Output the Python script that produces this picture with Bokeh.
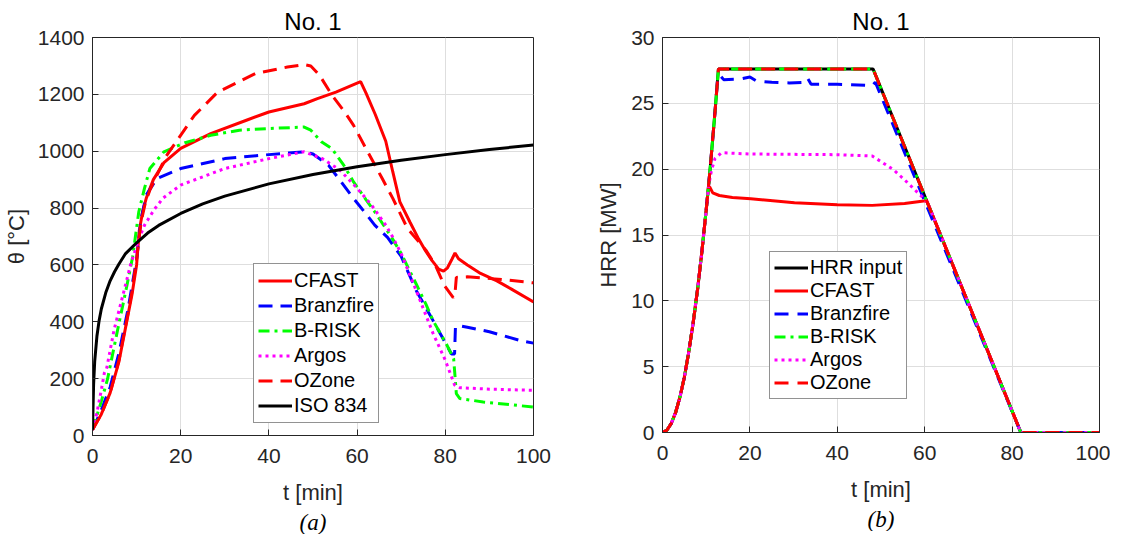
from bokeh.plotting import figure
from bokeh.layouts import row
from bokeh.models import Range1d, Title
from bokeh.embed import file_html
from bokeh.resources import INLINE

# ---------------- (a) gas temperature ----------------
t_cfast = [0, 2, 4, 6, 8, 9, 10, 10.6, 11.4, 12.2, 13.8, 16.2, 20, 26.8, 34.9, 40, 48, 51, 55.2, 60.8,
           62, 64.1, 66.5, 68.1, 69.7, 72, 74, 75.5, 77, 78.5, 79.6, 80.5, 81.5, 82.2, 83, 85, 88, 91.7, 95, 100]
T_cfast = [20, 75, 150, 260, 420, 500, 600, 720, 790, 835, 900, 960, 1010, 1062, 1109, 1138, 1167, 1185, 1208, 1245,
           1205, 1130, 1035, 927, 822, 750, 690, 650, 615, 585, 578, 590, 620, 642, 622, 600, 570, 544, 515, 470]

t_branz = [0, 2, 4, 6, 8, 10, 11, 12.2, 14.6, 20, 30, 40, 48, 50, 53.5, 56, 59.2, 62, 64, 66.9, 70, 73.4, 77.2,
           79.5, 81.4, 82.1, 82.3, 83, 85, 90, 97, 100]
T_branz = [20, 90, 170, 290, 440, 620, 760, 846, 904, 939, 974, 988, 998, 990, 951, 900, 834, 780, 740, 697, 630, 510, 405,
           340, 287, 287, 381, 387, 381, 365, 334, 325]

t_brisk = [0, 2, 3.4, 5.7, 7.6, 9.1, 10.5, 11.8, 13, 16.2, 21, 26.8, 33.3, 40, 48, 49.5, 51.9, 54.3, 57, 59.2, 62, 64,
           67.7, 70, 73.4, 75.6, 77.2, 80.2, 81.9, 82.5, 83.3, 88.6, 95, 100]
T_brisk = [20, 120, 198, 372, 512, 628, 787, 870, 939, 998, 1030, 1056, 1074, 1080, 1085, 1074, 1033, 1009, 950, 892, 830, 787,
           700, 640, 533, 462, 405, 323, 270, 147, 130, 118, 108, 100]

t_argos = [0, 1, 2, 2.7, 3.2, 4.9, 7, 8.7, 10.5, 11.8, 14, 16, 20, 30, 40, 48, 52, 56, 60, 63.3, 66.5, 68, 70,
           73.4, 77.2, 80, 82.1, 83.3, 90, 100]
T_argos = [20, 80, 160, 221, 235, 372, 500, 605, 690, 740, 795, 835, 881, 939, 974, 998, 975, 935, 870, 810, 740, 700, 640,
           510, 360, 265, 178, 168, 163, 159]

t_ozone = [0, 2, 4, 6, 8, 9, 10, 11, 12, 13, 16.6, 23.1, 28.4, 36.9, 44.2, 48, 49.5, 51.5, 54.3, 57.2, 59.2, 62.4,
           65.7, 68.1, 71.4, 75.7, 77.8, 79.8, 81.8, 82.2, 82.5, 85, 92, 100]
T_ozone = [20, 75, 150, 265, 425, 510, 620, 750, 820, 863, 980, 1126, 1208, 1273, 1296, 1305, 1300, 1267, 1197, 1138, 1091, 998,
           904, 834, 729, 650, 597, 527, 485, 500, 556, 558, 550, 537]

t_iso = [0, 0.25, 0.5, 1, 1.5, 2, 3, 4, 5, 6, 7.5, 10, 12.5, 15, 20, 25, 30, 40, 50, 60, 70, 80, 90, 100]
T_iso = [20, 180, 261, 349, 404, 445, 502, 544, 576, 603, 640, 678, 712, 739, 781, 815, 842, 885, 918, 945, 968, 988, 1006, 1022]

# ---------------- (b) heat release rate ----------------
t_hrr_input = [0, 1, 2, 3, 4, 5, 6, 7, 8, 9, 10, 10.5, 11, 12, 12.8, 48.2, 82, 100]
hrr_input = [0, 0.17, 0.68, 1.52, 2.7, 4.2, 6.1, 8.3, 10.8, 13.7, 16.9, 18.6, 20.4, 24.3, 27.6, 27.6, 0, 0]

t_hrr_cfast = [0, 1, 2, 3, 4, 5, 6, 7, 8, 9, 10, 10.5, 10.8, 11.5, 13, 16, 20.2, 30.2, 40, 48, 55.4, 60.2, 60.6, 82, 100]
hrr_cfast = [0, 0.17, 0.68, 1.52, 2.7, 4.2, 6.1, 8.3, 10.8, 13.7, 16.9, 18.6, 18.65, 18.2, 18.0, 17.85, 17.75, 17.45, 17.3,
             17.25, 17.4, 17.6, 17.5, 0, 0]

t_hrr_branz = [0, 1, 2, 3, 4, 5, 6, 7, 8, 9, 10, 11, 12, 12.6, 13.1, 14, 17.7, 20, 21.5, 25, 29, 32.5, 33.2, 34, 40, 48,
               48.7, 82, 100]
hrr_branz = [0, 0.17, 0.68, 1.52, 2.7, 4.2, 6.1, 8.3, 10.8, 13.7, 16.9, 20.4, 24.3, 26.8, 27.15, 26.8, 26.85, 27.0, 26.7,
             26.6, 26.55, 26.6, 26.9, 26.45, 26.45, 26.35, 26.6, 0, 0]

t_hrr_brisk = t_hrr_input
hrr_brisk = hrr_input

t_hrr_argos = [0, 1, 2, 3, 4, 5, 6, 7, 8, 9, 10, 10.5, 11.2, 12, 13.5, 20, 40, 48, 52.9, 56, 60.6, 82, 100]
hrr_argos = [0, 0.17, 0.68, 1.52, 2.7, 4.2, 6.1, 8.3, 10.8, 13.7, 16.9, 18.6, 19.9, 20.8, 21.25, 21.15, 21.1, 21.0, 19.95,
             19.0, 17.5, 0, 0]

t_hrr_ozone = t_hrr_input
hrr_ozone = hrr_input

x_ticks = [0, 20, 40, 60, 80, 100]
y_ticks_a = [0, 200, 400, 600, 800, 1000, 1200, 1400]
y_ticks_b = [0, 5, 10, 15, 20, 25, 30]

SANS = "Liberation Sans"
DARK = "#262626"


def style(p, yticks, caption, ylabel):
    p.title.text = "No. 1"
    p.title.align = "center"
    p.title.text_font = SANS
    p.title.text_font_size = "24px"
    p.title.text_font_style = "normal"
    p.title.text_color = "black"
    p.title.standoff = 6
    p.xaxis.ticker = x_ticks
    p.yaxis.ticker = yticks
    for ax in (p.xaxis[0], p.yaxis[0]):
        ax.major_label_text_font = SANS
        ax.major_label_text_font_size = "21px"
        ax.major_label_text_color = DARK
        ax.axis_label_text_font = SANS
        ax.axis_label_text_font_size = "22px"
        ax.axis_label_text_font_style = "normal"
        ax.axis_label_text_color = DARK
        ax.axis_line_color = DARK
        ax.major_tick_line_color = DARK
        ax.major_tick_in = 6
        ax.major_tick_out = 0
        ax.minor_tick_line_color = None
    p.xaxis.axis_label = "t [min]"
    p.yaxis.axis_label = ylabel
    p.xaxis.major_label_standoff = 13
    p.yaxis.major_label_standoff = 8
    p.xaxis.axis_label_standoff = 14
    p.yaxis.axis_label_standoff = 6
    p.grid.grid_line_color = "#dedede"
    p.outline_line_color = DARK
    p.outline_line_alpha = 1
    p.background_fill_color = "white"
    p.border_fill_color = "white"
    p.add_layout(Title(text=caption, align="center", text_font="Liberation Serif",
                       text_font_style="italic", text_font_size="23px",
                       text_color="black", standoff=0), "below")


def style_legend(p, loc, row_h):
    lg = p.legend[0]
    lg.location = loc
    lg.label_text_font = SANS
    lg.label_text_font_size = "20px"
    lg.label_text_color = "black"
    lg.border_line_color = DARK
    lg.border_line_width = 1
    lg.background_fill_color = "white"
    lg.background_fill_alpha = 1
    lg.padding = 4
    lg.margin = 0
    lg.spacing = 0
    lg.glyph_width = 34
    lg.glyph_height = row_h
    lg.label_height = row_h
    lg.label_standoff = 2


# ---------- left figure ----------
p1 = figure(frame_width=441, frame_height=398, min_border_left=92, min_border_right=23,
            min_border_top=37, min_border_bottom=86,
            x_range=Range1d(0, 100), y_range=Range1d(0, 1400),
            output_backend="svg", toolbar_location=None)
style(p1, y_ticks_a, "(a)", "θ [°C]")
W = 3
p1.line(t_cfast, T_cfast, color="#ff0000", line_width=W, legend_label="CFAST")
p1.line(t_branz, T_branz, color="#0000ff", line_width=W, line_dash="14 8", legend_label="Branzfire")
p1.line(t_brisk, T_brisk, color="#00ff00", line_width=W, line_dash="11 5 3 5", legend_label="B-RISK")
p1.line(t_argos, T_argos, color="#ff00ff", line_width=W, line_dash="3 4", legend_label="Argos")
p1.line(t_ozone, T_ozone, color="#ff0000", line_width=W, line_dash="14 8", legend_label="OZone")
p1.line(t_iso, T_iso, color="black", line_width=W, legend_label="ISO 834")
style_legend(p1, (161, 12), 25)

# ---------- right figure ----------
p2 = figure(frame_width=437, frame_height=395, min_border_left=106, min_border_right=11,
            min_border_top=37, min_border_bottom=89,
            x_range=Range1d(0, 100), y_range=Range1d(0, 30),
            output_backend="svg", toolbar_location=None)
style(p2, y_ticks_b, "(b)", "HRR [MW]")
p2.yaxis.axis_label_standoff = 7
p2.line(t_hrr_input, hrr_input, color="black", line_width=W, legend_label="HRR input")
p2.line(t_hrr_cfast, hrr_cfast, color="#ff0000", line_width=W, legend_label="CFAST")
p2.line(t_hrr_branz, hrr_branz, color="#0000ff", line_width=W, line_dash="14 9", legend_label="Branzfire")
p2.line(t_hrr_brisk, hrr_brisk, color="#00ff00", line_width=W, line_dash="11 5 3 5", legend_label="B-RISK")
p2.line(t_hrr_argos, hrr_argos, color="#ff00ff", line_width=W, line_dash="3 4", legend_label="Argos")
p2.line(t_hrr_ozone, hrr_ozone, color="#ff0000", line_width=W, line_dash="14 9", legend_label="OZone")
style_legend(p2, (107, 33), 23)

layout = row(p1, p2)
open("out.html", "w").write(file_html(layout, INLINE))
